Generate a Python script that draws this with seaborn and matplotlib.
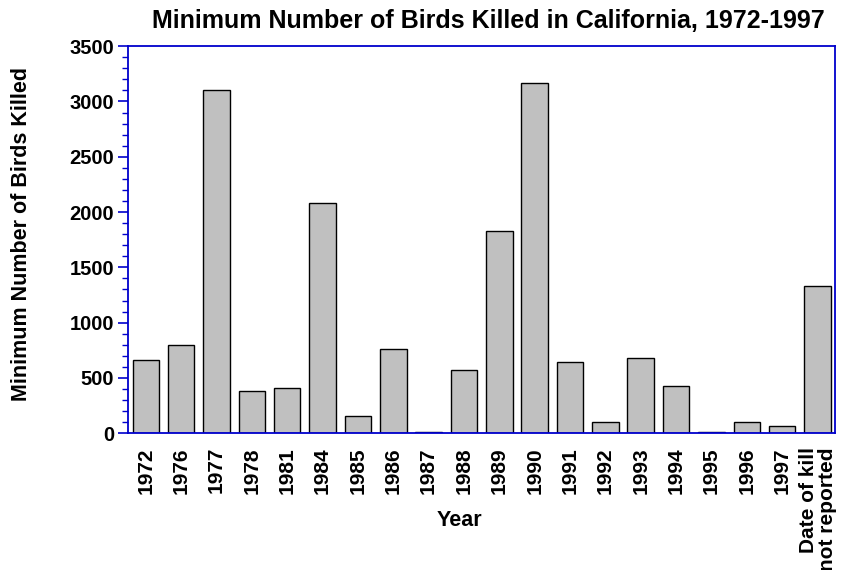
import pandas as pd
import numpy as np
import seaborn as sns
import matplotlib.pyplot as plt
from matplotlib.ticker import MultipleLocator

# =========================
# Data
# =========================
years = ['1972', '1976', '1977', '1978', '1981', '1984', '1985', '1986', '1987',
         '1988', '1989', '1990', '1991', '1992', '1993', '1994', '1995', '1996',
         '1997', 'Date of kill\nnot reported']
birds_killed = [660, 796, 3100, 380, 405, 2080, 154, 765, 10,
                575, 1830, 3170, 640, 100, 680, 425, 10, 100,
                63, 1335]

df = pd.DataFrame({'year': years, 'birds': birds_killed})

# =========================
# Plot
# =========================
sns.set_theme(style="white")
plt.rcParams['font.family'] = ['Liberation Sans', 'DejaVu Sans']
plt.rcParams['text.color'] = 'black'
plt.rcParams['axes.labelcolor'] = 'black'
plt.rcParams['xtick.color'] = 'black'
plt.rcParams['ytick.color'] = 'black'

fig = plt.figure(figsize=(8.54, 5.70), dpi=100)
ax = fig.add_axes([0.150, 0.240, 0.828, 0.679])

sns.barplot(data=df, x='year', y='birds', color='#c0c0c0', saturation=1,
            edgecolor='black', linewidth=1.0, width=0.75, ax=ax)

ax.set_xlim(-0.5, len(years) - 0.5)
ax.set_ylim(0, 3500)
ax.yaxis.set_major_locator(MultipleLocator(500))
ax.yaxis.set_minor_locator(MultipleLocator(100))

blue = '#0000cc'
for sp in ax.spines.values():
    sp.set_visible(True)
    sp.set_color(blue)
    sp.set_linewidth(1.3)

ax.tick_params(axis='y', which='major', length=7, width=1.2, color=blue,
               labelcolor='black', direction='out', left=True, labelsize=14.5, pad=3)
ax.tick_params(axis='y', which='minor', length=4, width=1.0, color=blue,
               direction='out', left=True)
ax.tick_params(axis='x', length=0, labelsize=15, pad=10)

for lbl in ax.get_yticklabels():
    lbl.set_fontweight('bold')
for lbl in ax.get_xticklabels():
    lbl.set_rotation(90)
    lbl.set_fontweight('bold')
    lbl.set_multialignment('right')
    lbl.set_linespacing(1.0)

ax.set_xlabel('Year', fontsize=15.5, fontweight='bold')
ax.xaxis.set_label_coords(0.468, -0.199)
ax.set_ylabel('Minimum Number of Birds Killed', fontsize=15.5, fontweight='bold')
ax.yaxis.set_label_coords(-0.136, 0.514)
ax.set_title('Minimum Number of Birds Killed in California, 1972-1997',
             fontsize=18, fontweight='bold', pad=13, x=0.51)

fig.savefig('out.png', dpi=100)
